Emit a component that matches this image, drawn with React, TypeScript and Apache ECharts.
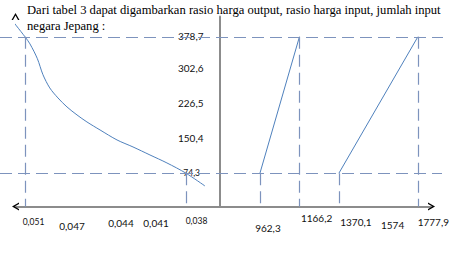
import React, { useEffect, useRef } from 'react';
import * as echarts from 'echarts';

// ---- text ----
const titleLines = [
  'Dari tabel 3 dapat digambarkan rasio harga output, rasio harga input, jumlah input',
  'negara Jepang :',
];

// ---- tick labels ----
const leftTicks = [0.051, 0.047, 0.044, 0.041, 0.038];
const rightTicks = [962.3, 1166.2, 1370.1, 1574, 1777.9];
const yTicks = [74.3, 150.4, 226.5, 302.6, 378.7];

// ---- left panel curve (ratio vs amount) ----
const curveX = [0.0522, 0.051, 0.0506, 0.05, 0.04955, 0.049, 0.04834, 0.04761, 0.0468, 0.046, 0.04494, 0.04357, 0.04228, 0.04091, 0.03954, 0.038, 0.03647];
const curveY = [420.9, 378.7, 362.9, 329.8, 294.1, 264.6, 242.3, 222.2, 204.3, 188.7, 170.8, 148.5, 132.9, 115.0, 97.2, 74.3, 45.8];

// ---- right panel lines ----
const line1X = [962.3, 1166.2];
const line1Y = [74.3, 378.7];
const line2X = [1370.1, 1777.9];
const line2Y = [74.3, 378.7];

// ---- guide levels ----
const lowLevel = 74.3;
const highLevel = 378.7;

// layout/style helpers (not data)
const leftLabelLayout = [
  { pt: 9, pl: 17, pr: 0, size: 8.5 },
  { pt: 12.5, pl: 0, pr: 5, size: 10 },
  { pt: 9.5, pl: 18.6, pr: 0, size: 10 },
  { pt: 9.5, pl: 14.4, pr: 0, size: 10 },
  { pt: 8, pl: 21, pr: 0, size: 8.5 },
];
const rightLabelLayout = [
  { pt: 14.2, pl: 16, pr: 0, size: 10 },
  { pt: 4.2, pl: 34.4, pr: 0, size: 10 },
  { pt: 8.8, pl: 34, pr: 0, size: 10 },
  { pt: 11.5, pl: 28.4, pr: 0, size: 10 },
  { pt: 8.8, pl: 31, pr: 0, size: 10 },
];
const yLabelLayout = [
  { pt: 0, pb: 0, pr: 3.5, size: 8.5 },
  { pt: 0, pb: 1.4, pr: 0, size: 10 },
  { pt: 0, pb: 3.4, pr: 0, size: 10 },
  { pt: 0, pb: 5.4, pr: 0, size: 10 },
  { pt: 0, pb: 2, pr: 0, size: 10 },
];

const FONT = 'Lato, "Liberation Sans", sans-serif';
const LABEL_COLOR = '#111';
const fmt = (v: number) => String(v).replace('.', ',');

function richFor(prefix: string, layout: any[]) {
  const r: any = {};
  layout.forEach((l, i) => {
    r[prefix + i] = {
      fontFamily: FONT,
      fontSize: l.size,
      color: LABEL_COLOR,
      padding: [l.pt || 0, l.pr || 0, l.pb || 0, l.pl || 0],
    };
  });
  return r;
}

function labelFormatter(prefix: string, ticks: number[]) {
  return (v: number) => {
    let idx = -1;
    ticks.forEach((t, i) => {
      if (Math.abs(t - v) < 1e-9) idx = i;
    });
    if (idx < 0) return '';
    return '{' + prefix + idx + '|' + fmt(ticks[idx]) + '}';
  };
}

const chevron = 'path://M0,7 L4,0 L8,7 L6.5,7 L4,2.6 L1.5,7 Z';
const grayLine = { show: true, lineStyle: { color: '#8c8c8c', width: 2 } };
const arrowLine = (sym: string[]) => ({
  show: true,
  symbol: sym,
  symbolSize: [8, 7],
  lineStyle: { color: '#000', width: 0 },
});

const Y_MIN = 0;
const Y_MAX = 424;

const dashStyle = { color: '#7d93bd', width: 1.2, type: [12, 6] as any };

function markLines(items: any[]) {
  return {
    silent: true,
    symbol: ['none', 'none'],
    label: { show: false },
    lineStyle: dashStyle,
    emphasis: { disabled: true },
    animation: false,
    data: items,
  };
}

export default function App() {
  const ref = useRef<HTMLDivElement>(null);
  useEffect(() => {
    if (!ref.current) return;
    const chart = echarts.init(ref.current, undefined, { renderer: 'svg' });
    const option: any = {
      animation: false,
      backgroundColor: '#fff',
      title: {
        text: titleLines.join('\n'),
        left: 27,
        top: 2,
        padding: 0,
        textStyle: {
          fontFamily: '"Liberation Serif", "Times New Roman", serif',
          fontSize: 12.6,
          fontWeight: 'normal',
          color: '#000',
          lineHeight: 16,
        },
      },
      grid: [
        { left: 15.5, right: 452 - 219.5, top: 16.5, bottom: 56.5 },
        { left: 219.5, right: 15, top: 16.5, bottom: 56.5 },
      ],
      xAxis: [
        {
          type: 'value', gridIndex: 0, inverse: true, position: 'bottom',
          min: 0.035295, max: 0.051767,
          axisLine: grayLine,
          axisTick: { show: false },
          splitLine: { show: false },
          axisLabel: {
            customValues: leftTicks,
            margin: 2,
            formatter: labelFormatter('l', leftTicks),
            rich: richFor('l', leftLabelLayout),
          },
        },
        {
          type: 'value', gridIndex: 1, position: 'bottom',
          min: 753.4, max: 1848.4,
          axisLine: grayLine,
          axisTick: { show: false },
          splitLine: { show: false },
          axisLabel: {
            customValues: rightTicks,
            margin: 2,
            formatter: labelFormatter('r', rightTicks),
            rich: richFor('r', rightLabelLayout),
          },
        },
        {
          type: 'value', gridIndex: 0, position: 'bottom', min: 0, max: 1,
          axisLine: arrowLine([chevron, 'none']),
          axisTick: { show: false }, axisLabel: { show: false }, splitLine: { show: false },
        },
        {
          type: 'value', gridIndex: 1, position: 'bottom', min: 0, max: 1,
          axisLine: arrowLine(['none', chevron]),
          axisTick: { show: false }, axisLabel: { show: false }, splitLine: { show: false },
        },
      ],
      yAxis: [
        {
          type: 'value', gridIndex: 0, position: 'right', min: Y_MIN, max: Y_MAX,
          axisLine: arrowLine(['none', chevron]),
          axisTick: { show: false }, axisLabel: { show: false }, splitLine: { show: false },
        },
        {
          type: 'value', gridIndex: 1, position: 'left', min: Y_MIN, max: Y_MAX,
          axisLine: grayLine,
          axisTick: { show: false },
          splitLine: { show: false },
          axisLabel: {
            customValues: yTicks,
            margin: 16,
            formatter: labelFormatter('y', yTicks),
            rich: richFor('y', yLabelLayout),
          },
        },
      ],
      series: [
        {
          type: 'line', xAxisIndex: 0, yAxisIndex: 0,
          data: curveX.map((x, i) => [x, curveY[i]]),
          smooth: 0.3, showSymbol: false, clip: false, silent: true,
          lineStyle: { color: '#4f81bd', width: 1 },
          markLine: markLines([
            [{ x: 0, yAxis: highLevel }, { x: 443, yAxis: highLevel }],
            [{ x: 0, yAxis: lowLevel }, { x: 442, yAxis: lowLevel }],
            [{ coord: [leftTicks[0], highLevel] }, { coord: [leftTicks[0], Y_MIN] }],
            [{ coord: [leftTicks[4], lowLevel] }, { coord: [leftTicks[4], Y_MIN] }],
          ]),
        },
        {
          type: 'line', xAxisIndex: 1, yAxisIndex: 1,
          data: line1X.map((x, i) => [x, line1Y[i]]),
          showSymbol: false, clip: false, silent: true,
          lineStyle: { color: '#4f81bd', width: 1 },
          markLine: markLines([
            [{ coord: [line1X[0], line1Y[0]] }, { coord: [line1X[0], Y_MIN] }],
            [{ coord: [line1X[1], line1Y[1]] }, { coord: [line1X[1], Y_MIN] }],
          ]),
        },
        {
          type: 'line', xAxisIndex: 1, yAxisIndex: 1,
          data: line2X.map((x, i) => [x, line2Y[i]]),
          showSymbol: false, clip: false, silent: true,
          lineStyle: { color: '#4f81bd', width: 1 },
          markLine: markLines([
            [{ coord: [line2X[0], line2Y[0]] }, { coord: [line2X[0], Y_MIN] }],
            [{ coord: [line2X[1], line2Y[1]] }, { coord: [line2X[1], Y_MIN] }],
          ]),
        },
      ],
    };
    chart.setOption(option);
    return () => chart.dispose();
  }, []);
  return (
    <div
      ref={ref}
      style={{ position: 'fixed', left: 0, top: 0, width: 452, height: 263, background: '#fff' }}
    />
  );
}
